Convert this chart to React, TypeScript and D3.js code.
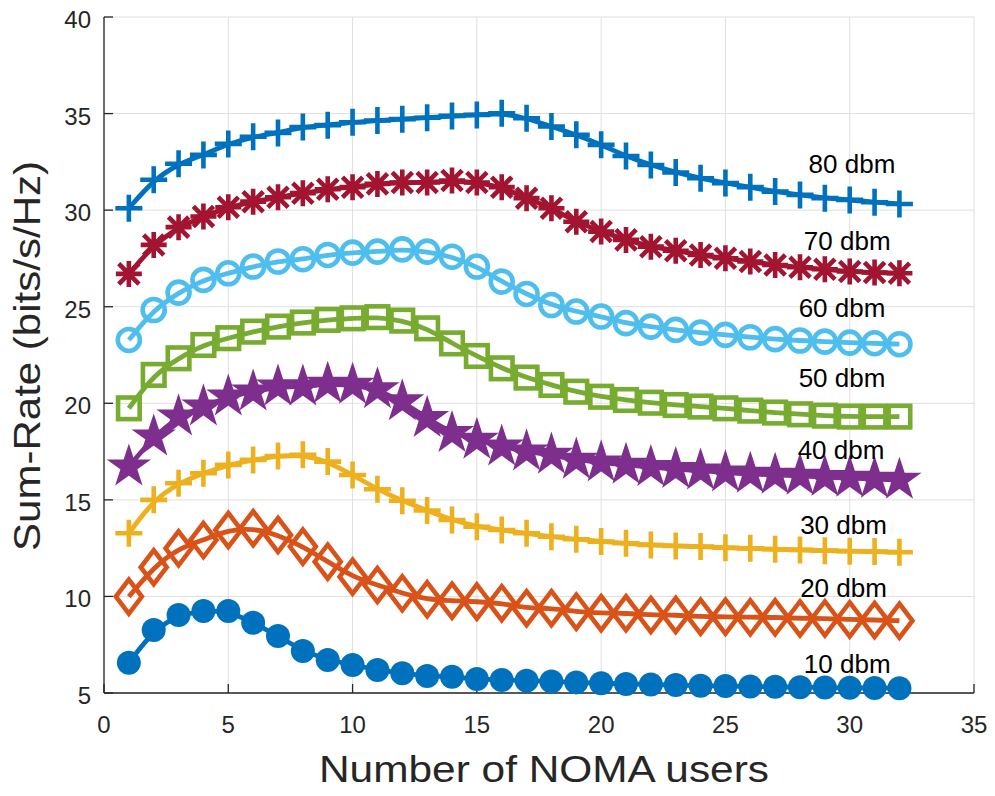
import React from "react";
import * as d3 from "d3";

// Number of NOMA users on the x axis
const users = [1, 2, 3, 4, 5, 6, 7, 8, 9, 10, 11, 12, 13, 14, 15, 16, 17, 18, 19, 20, 21, 22, 23, 24, 25, 26, 27, 28, 29, 30, 31, 32];

// Sum-rate (bits/s/Hz) for each transmit power level
const rate10 = [6.57, 8.26, 9.04, 9.25, 9.25, 8.64, 7.95, 7.18, 6.71, 6.45, 6.19, 6.02, 5.88, 5.84, 5.72, 5.67, 5.64, 5.6, 5.55, 5.5, 5.47, 5.44, 5.41, 5.38, 5.36, 5.34, 5.32, 5.3, 5.28, 5.27, 5.26, 5.25];
const rate20 = [9.99, 11.51, 12.49, 12.92, 13.44, 13.53, 13.18, 12.58, 11.8, 11.02, 10.59, 10.16, 9.85, 9.78, 9.73, 9.65, 9.39, 9.39, 9.21, 9.13, 9.13, 9.04, 9.04, 8.95, 8.95, 8.92, 8.92, 8.86, 8.86, 8.81, 8.78, 8.74];
const rate30 = [13.27, 15.0, 15.86, 16.38, 16.81, 17.07, 17.27, 17.33, 16.98, 16.29, 15.55, 14.95, 14.45, 13.96, 13.61, 13.44, 13.27, 13.09, 12.96, 12.84, 12.75, 12.66, 12.61, 12.58, 12.52, 12.49, 12.44, 12.41, 12.37, 12.34, 12.32, 12.29];
const rate40 = [16.72, 18.27, 19.31, 19.83, 20.34, 20.6, 20.86, 20.86, 21.0, 20.95, 20.72, 20.09, 19.23, 18.45, 18.1, 17.75, 17.5, 17.33, 17.07, 16.93, 16.81, 16.69, 16.59, 16.51, 16.41, 16.34, 16.29, 16.24, 16.17, 16.13, 16.08, 16.03];
const rate50 = [19.74, 21.47, 22.33, 23.02, 23.37, 23.71, 23.97, 24.18, 24.32, 24.4, 24.46, 24.28, 23.88, 23.1, 22.45, 21.81, 21.33, 20.95, 20.6, 20.34, 20.17, 20.03, 19.91, 19.83, 19.74, 19.62, 19.52, 19.43, 19.36, 19.31, 19.31, 19.31];
const rate60 = [23.28, 24.83, 25.73, 26.39, 26.73, 27.08, 27.34, 27.46, 27.68, 27.8, 27.85, 27.97, 27.85, 27.59, 27.08, 26.3, 25.66, 25.09, 24.75, 24.49, 24.15, 23.97, 23.8, 23.66, 23.54, 23.42, 23.32, 23.25, 23.19, 23.14, 23.11, 23.06];
const rate70 = [26.7, 28.2, 29.12, 29.67, 30.15, 30.44, 30.67, 30.88, 31.08, 31.19, 31.36, 31.43, 31.43, 31.53, 31.43, 31.19, 30.62, 30.1, 29.4, 28.89, 28.46, 28.11, 27.9, 27.68, 27.51, 27.34, 27.16, 27.04, 26.94, 26.82, 26.77, 26.73];
const rate80 = [30.1, 31.57, 32.4, 32.86, 33.43, 33.8, 34.0, 34.3, 34.4, 34.55, 34.64, 34.71, 34.78, 34.88, 34.93, 35.02, 34.76, 34.33, 33.9, 33.38, 32.8, 32.34, 31.95, 31.65, 31.4, 31.19, 30.96, 30.79, 30.62, 30.53, 30.41, 30.32];

// Power level labels and where they sit (data units: x centre, baseline y)
const powerLabels = ["10 dbm", "20 dbm", "30 dbm", "40 dbm", "50 dbm", "60 dbm", "70 dbm", "80 dbm"];
const labelX = [29.9, 29.75, 29.75, 29.65, 29.69, 29.69, 29.9, 30.09];
const labelY = [6.04, 9.97, 13.23, 17.12, 20.85, 24.47, 27.94, 31.93];

const xTicks = [0, 5, 10, 15, 20, 25, 30, 35];
const yTicks = [5, 10, 15, 20, 25, 30, 35, 40];

const W = 995;
const H = 796;
const FONT = "'Liberation Sans', Arial, Helvetica, sans-serif";
const AXIS = "#262626";
const GRID = "#dfdfdf";
const MW = 4.6; // marker edge width

type Marker = "dot" | "diamond" | "plus" | "star" | "square" | "circle" | "asterisk";

const series: { values: number[]; color: string; marker: Marker }[] = [
  { values: rate10, color: "#0072BD", marker: "dot" },
  { values: rate20, color: "#D95319", marker: "diamond" },
  { values: rate30, color: "#EDB120", marker: "plus" },
  { values: rate40, color: "#7E2F8E", marker: "star" },
  { values: rate50, color: "#77AC30", marker: "square" },
  { values: rate60, color: "#4DBEEE", marker: "circle" },
  { values: rate70, color: "#A2142F", marker: "asterisk" },
  { values: rate80, color: "#0072BD", marker: "plus" },
];

const starPath = d3.symbol(d3.symbolStar, 380)() as string;

function MarkerShape({ type, color, x, y }: { type: Marker; color: string; x: number; y: number }) {
  const t = `translate(${x},${y})`;
  switch (type) {
    case "dot":
      return <circle cx={x} cy={y} r={12} fill={color} />;
    case "circle":
      return <circle cx={x} cy={y} r={11} fill="none" stroke={color} strokeWidth={MW} />;
    case "square":
      return <rect x={x - 10.8} y={y - 10.8} width={21.6} height={21.6} fill="none" stroke={color} strokeWidth={MW} />;
    case "diamond":
      return <path transform={t} d="M0,-17L13,0L0,17L-13,0Z" fill="none" stroke={color} strokeWidth={MW} strokeLinejoin="miter" />;
    case "plus":
      return <path transform={t} d="M-13.5,0H13.5M0,-13.5V13.5" stroke={color} strokeWidth={MW} />;
    case "asterisk": {
      const r = 13;
      const q = r * 0.78;
      return (
        <path
          transform={t}
          d={`M${-r},0H${r}M0,${-r}V${r}M${-q},${-q}L${q},${q}M${-q},${q}L${q},${-q}`}
          stroke={color}
          strokeWidth={MW}
        />
      );
    }
    case "star":
      return <path transform={t} d={starPath} fill={color} stroke={color} strokeWidth={3} strokeLinejoin="miter" />;
  }
}

export default function App() {
  const x = d3.scaleLinear().domain([0, 35]).range([104, 974]);
  const y = d3.scaleLinear().domain([5, 40]).range([693, 17]);

  const line = d3
    .line<number>()
    .x((_, i) => x(users[i]))
    .y((d) => y(d))
    .curve(d3.curveBasis);

  const [x0, x1] = x.range();
  const [y0, y1] = y.range();

  return (
    <svg
      width={W}
      height={H}
      viewBox={`0 0 ${W} ${H}`}
      style={{ position: "absolute", left: 0, top: 0, background: "#fff", fontFamily: FONT }}
    >
      <rect width={W} height={H} fill="#fff" />

      {/* grid */}
      <g stroke={GRID} strokeWidth={1}>
        {xTicks.map((t) => (
          <line key={`gx${t}`} x1={x(t)} x2={x(t)} y1={y0} y2={y1} />
        ))}
        {yTicks.map((t) => (
          <line key={`gy${t}`} x1={x0} x2={x1} y1={y(t)} y2={y(t)} />
        ))}
      </g>

      {/* axes */}
      <g stroke={AXIS} strokeWidth={1.3} fill="none">
        <line x1={x0} x2={x0} y1={y1} y2={y0} />
        <line x1={x0} x2={x1} y1={y0} y2={y0} />
        {xTicks.map((t) => (
          <line key={`tx${t}`} x1={x(t)} x2={x(t)} y1={y0} y2={y0 - 9} />
        ))}
        {yTicks.map((t) => (
          <line key={`ty${t}`} x1={x0} x2={x0 + 9} y1={y(t)} y2={y(t)} />
        ))}
      </g>

      <g fill={AXIS} fontSize={24}>
        {xTicks.map((t) => (
          <text key={`lx${t}`} x={x(t)} y={y0 + 40} textAnchor="middle">
            {t}
          </text>
        ))}
        {yTicks.map((t) => (
          <text key={`ly${t}`} x={x0 - 13} y={y(t) + 11} textAnchor="end">
            {t}
          </text>
        ))}
      </g>

      <text
        x={(x0 + x1) / 2 + 5}
        y={782}
        textAnchor="middle"
        fontSize={37}
        fill={AXIS}
        textLength={450}
        lengthAdjust="spacingAndGlyphs"
      >
        Number of NOMA users
      </text>
      <text
        transform={`translate(40,356) rotate(-90)`}
        textAnchor="middle"
        fontSize={37}
        fill={AXIS}
        textLength={390}
        lengthAdjust="spacingAndGlyphs"
      >
        Sum-Rate (bits/s/Hz)
      </text>

      {/* series */}
      {series.map((s, si) => (
        <g key={`s${si}`}>
          <path d={line(s.values) as string} fill="none" stroke={s.color} strokeWidth={4.8} strokeLinejoin="round" />
          {s.values.map((v, i) => (
            <MarkerShape key={i} type={s.marker} color={s.color} x={x(users[i])} y={y(v)} />
          ))}
        </g>
      ))}

      {/* power level annotations */}
      <g fontSize={26} fill="#000" textAnchor="middle">
        {powerLabels.map((lab, i) => (
          <text key={lab} x={x(labelX[i])} y={y(labelY[i])}>
            {lab}
          </text>
        ))}
      </g>
    </svg>
  );
}
